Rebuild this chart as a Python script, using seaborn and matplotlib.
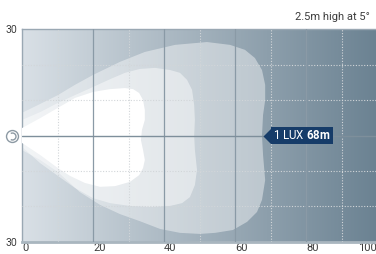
import numpy as np
import matplotlib
matplotlib.use('Agg')
import matplotlib.pyplot as plt
import seaborn as sns
from matplotlib.colors import LinearSegmentedColormap
from matplotlib.path import Path
from matplotlib.transforms import ScaledTranslation

# chart values
x_ticks = [0, 20, 40, 60, 80, 100]
y_limit = 30
lux_distance = 68
title_text = '2.5m high at 5°'

# beam outlines: distance (m) and lateral offset (m)
outer_x = [0, 0, 5.1, 10.1, 14.9, 20, 27.6, 34.6, 43.1, 52.1, 58.6, 62.8, 65.6, 67.6, 68.5, 68.5, 67.9, 67.6,
           67.9, 68.5, 67.6, 66.2, 63.4, 59.4, 54.4, 50.1, 44.5, 38.9, 33.2, 27.6, 22, 16.3, 10.1, 5.1, 0]
outer_y = [0, 6.4, 8.9, 11.4, 14.3, 17.1, 20.8, 23.6, 25.6, 26.4, 25.6, 24.2, 21.9, 18.5, 14.3, 10, 5.8, 0,
           -5.5, -12.6, -18.2, -21.6, -24.4, -26.7, -27.5, -27.8, -27.5, -26.4, -24.2, -22.2, -19.6, -16, -10.3, -6.9, -4.1]

mid_x = [0, 0, 5.1, 10.1, 14.9, 20, 24.8, 29, 33.2, 37.5, 41.7, 44.5, 46.5, 47.9, 48.5, 48.7, 48.5,
         48.7, 49.3, 48.7, 47.3, 45.1, 41.7, 36.1, 30.4, 24.8, 20, 14.9, 10.1, 5.1, 0]
mid_y = [0, 4.4, 6.6, 9.2, 11.4, 13.7, 15.9, 17.7, 18.8, 19.1, 18.5, 17.7, 15.7, 12.9, 8.6, 4.4, 0,
         -4.1, -9.7, -14, -17.4, -19.1, -19.9, -20.2, -19.9, -19.1, -17.7, -14.8, -11.4, -7.8, -3.2]

inner_x = [0, 0, 5.1, 10.1, 14.9, 20, 24.8, 29, 31.3, 33, 34.1, 34.6, 34.6, 33.8, 33.5, 34.1, 34.6, 34.1,
           33, 30.4, 26.2, 22, 17.7, 13.5, 10.1, 5.1, 0]
inner_y = [0, 2.1, 4.9, 7.8, 10.6, 12.3, 13.1, 13.4, 13.1, 12, 10, 7.2, 4.4, 1.6, -1.3, -4.1, -6.9, -9.2,
           -11.2, -13.1, -14.3, -14.5, -13.4, -11.4, -9.2, -5.5, -2.1]

major_lines = [20, 40, 60, 80]
minor_v_lines = [10, 30, 50, 70, 90]
minor_h_lines = [-20, -10, 10, 20]

sns.set_theme(style='white')
plt.rcParams['font.family'] = ['Roboto', 'DejaVu Sans']
plt.rcParams['mathtext.fontset'] = 'custom'
plt.rcParams['mathtext.rm'] = 'Roboto'
plt.rcParams['mathtext.bf'] = 'Roboto:bold'

navy = '#163c69'
text_col = '#3c3c3c'

fig = plt.figure(figsize=(3.76, 2.54), dpi=100)
ax = fig.add_axes([22 / 376, 12.3 / 254, 355 / 376, 212.4 / 254])

# background gradient
bg_cmap = LinearSegmentedColormap.from_list('bg', ['#d9e0e6', '#6b8292'])
ax.imshow(np.linspace(0, 1, 256)[None, :], cmap=bg_cmap, extent=[0, 100, -y_limit, y_limit],
          aspect='auto', zorder=0)

# beam bands
ax.fill(outer_x, outer_y, color='white', alpha=0.42, lw=0, zorder=1)
ax.fill(mid_x, mid_y, color='white', alpha=0.45, lw=0, zorder=2)
ax.fill(inner_x, inner_y, color='white', lw=0, zorder=3)

# grid
for v in minor_v_lines:
    ax.axvline(v, color='#d2d6d9', lw=0.8, ls=(0, (1, 1.5)), zorder=4)
for h in minor_h_lines:
    ax.axhline(h, color='#d2d6d9', lw=0.8, ls=(0, (1, 1.5)), zorder=4)
for v in major_lines:
    ax.axvline(v, color='#8a9aa6', lw=0.9, zorder=5)
ax.axhline(0, color='#7e8f9b', lw=1, zorder=5)

ax.set_xlim(0, 100)
ax.set_ylim(-y_limit, y_limit)
ax.set_xticks(x_ticks)
xlabels = ax.set_xticklabels([str(t) for t in x_ticks], ha='left')
xlabels[-1].set_ha('right')
ax.set_yticks([-y_limit, y_limit])
ax.set_yticklabels([str(y_limit), str(y_limit)])
ax.tick_params(axis='x', length=0, pad=1.0, labelsize=8, colors=text_col)
ax.tick_params(axis='y', length=0, pad=3.5, labelsize=7.5, colors=text_col)

for side in ['left', 'top']:
    ax.spines[side].set_color('#9aa8b3')
    ax.spines[side].set_linewidth(1)
ax.spines['bottom'].set_color('#a9b6bf')
ax.spines['bottom'].set_linewidth(2)
ax.spines['right'].set_visible(False)

# lamp icon left of origin
icon_shift = ax.transData + ScaledTranslation(-0.103, 0, fig.dpi_scale_trans)
ax.plot(0, 0, marker='o', ms=8.6, mfc='none', mec='#8d9aa4', mew=1, transform=icon_shift, clip_on=False, zorder=6)
ax.plot(0, 0, marker=Path.arc(-120, 120), ms=5, mfc='none', mec='#8d9aa4', mew=1, transform=icon_shift,
        clip_on=False, zorder=6)

# 1 lux label
tri = Path([(0, 0), (1, 1), (1, -1), (0, 0)], [Path.MOVETO, Path.LINETO, Path.LINETO, Path.CLOSEPOLY])
ax.plot(lux_distance, 0, marker=tri, ms=11, color=navy, mew=0, zorder=9)
ax.annotate(r'1 LUX $\mathbf{68m}$', xy=(lux_distance, 0), xytext=(7.0, 0), textcoords='offset points',
            ha='left', va='center', color='white', fontsize=8.3,
            bbox=dict(boxstyle='square,pad=0.18', fc=navy, ec='none'), zorder=10)

fig.text(370 / 376, 1 - 17 / 254, title_text, ha='right', va='center', fontsize=8, color=text_col)

fig.savefig('out.png', dpi=100)
